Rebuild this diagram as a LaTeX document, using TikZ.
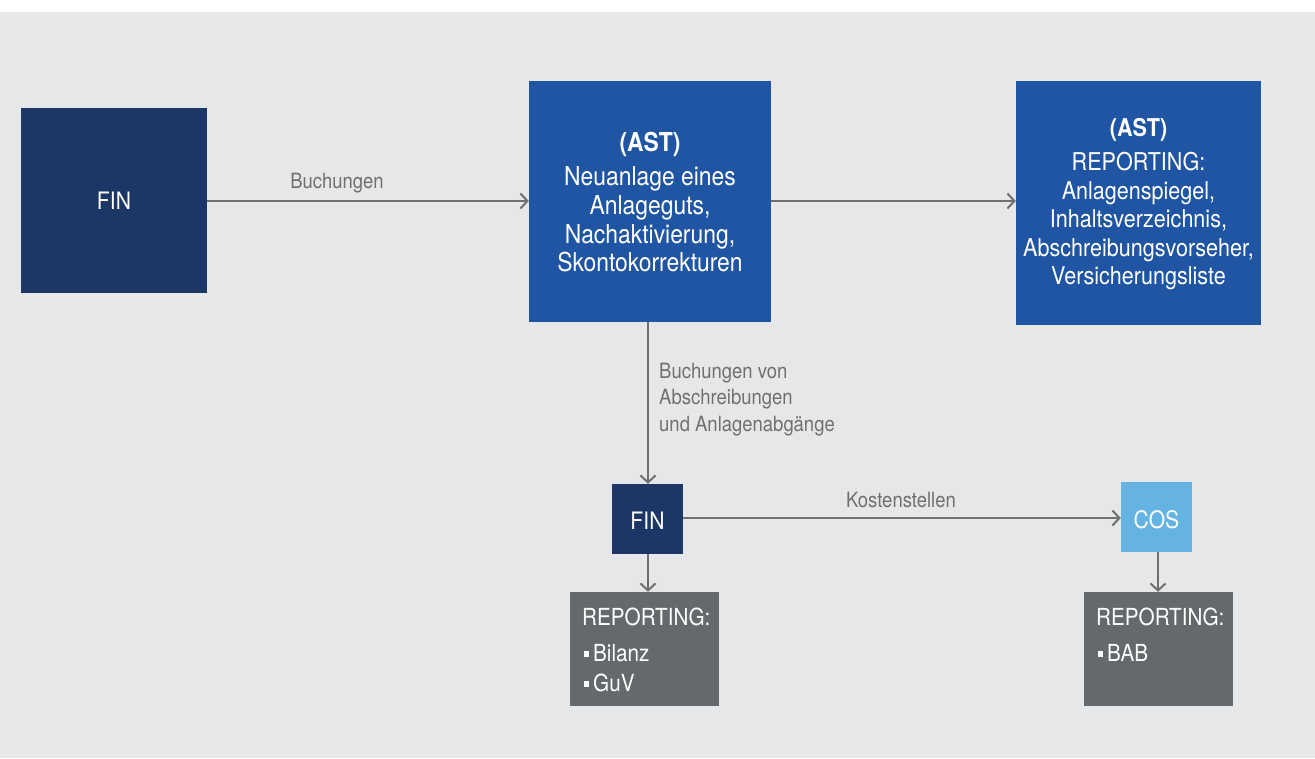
\documentclass[tikz,border=0pt]{standalone}
\usepackage{fontspec}
\setmainfont{TeX Gyre Heros}[FakeStretch=0.88]
\usetikzlibrary{arrows.meta}
\definecolor{panel}{HTML}{E6E7E9}
\definecolor{navy}{HTML}{1C3666}
\definecolor{astblue}{HTML}{1F55A2}
\definecolor{cosblue}{HTML}{64B3E3}
\definecolor{repgray}{HTML}{65696B}
\definecolor{linegray}{HTML}{6E7071}
\newcommand{\sqbullet}{\hspace{1.5pt}\raisebox{5pt}{\rule{5.5pt}{5.5pt}}\hspace{4pt}}
\tikzset{
  box/.style={draw=none, inner sep=0pt, text=white, align=center},
  boxtext/.style={text=white, align=center, inner sep=0pt},
  reptext/.style={text=white, align=left, inner sep=0pt, anchor=north west, font=\fontsize{23.5}{30}\selectfont},
  flow/.style={draw=linegray, line width=2pt, -{Straight Barb[length=7pt, width=15pt, line width=2pt]}},
  lbl/.style={text=linegray, inner sep=0pt, font=\fontsize{21}{26.5}\selectfont}
}
\begin{document}
\begin{tikzpicture}[x=1pt, y=-1pt]
  \useasboundingbox (0,0) rectangle (1315,758);
  \fill[panel] (0,12) rectangle (1315,758);

  % top row
  \node[box, fill=navy, minimum width=186pt, minimum height=185pt,
        font=\fontsize{24}{28}\selectfont] (fin1) at (114,200.5) {FIN};
  \node[box, fill=astblue, minimum width=242pt, minimum height=241pt] (ast1) at (650,201.5) {};
  \node[boxtext, font=\fontsize{26}{28.7}\selectfont] (ast1t) at (650,202) {\textbf{(AST)}\\[6pt]Neuanlage eines\\Anlageguts,\\Nachaktivierung,\\Skontokorrekturen};
  \node[box, fill=astblue, minimum width=245pt, minimum height=244pt] (ast2) at (1138.5,203) {};
  \node[boxtext, font=\fontsize{24.5}{28.5}\selectfont] (ast2t) at (1138.5,204) {\textbf{(AST)}\\[6pt]REPORTING:\\Anlagenspiegel,\\Inhaltsverzeichnis,\\Abschreibungsvorseher,\\Versicherungsliste};

  % lower row
  \node[box, fill=navy, minimum width=71pt, minimum height=70pt] (fin2) at (647.5,519) {};
  \node[boxtext, font=\fontsize{24}{28}\selectfont] (fin2t) at (647.5,521) {FIN};
  \node[box, fill=cosblue, minimum width=71pt, minimum height=70pt] (cos) at (1156.5,517) {};
  \node[boxtext, font=\fontsize{24}{28}\selectfont] (cost) at (1156.5,519.5) {COS};
  \node[box, fill=repgray, minimum width=149pt, minimum height=114pt] (rep1) at (644.5,649) {};
  \node[reptext] (rep1t) at (582,608) {REPORTING:\\[6pt]\sqbullet Bilanz\\\sqbullet GuV};
  \node[box, fill=repgray, minimum width=149pt, minimum height=114pt] (rep2) at (1158.5,649) {};
  \node[reptext] (rep2t) at (1096,608) {REPORTING:\\[6pt]\sqbullet BAB};

  % connectors
  \draw[flow] (fin1.east |- 0,201) -- (ast1.west |- 0,201);
  \draw[flow] (ast1.east |- 0,201) -- (ast2.west |- 0,201);
  \draw[flow] (ast1.south -| 648,0) -- (fin2.north -| 648,0);
  \draw[flow] (fin2.east |- 0,518) -- (cos.west |- 0,518);
  \draw[flow] (fin2.south -| 648,0) -- (rep1.north -| 648,0);
  \draw[flow] (cos.south -| 1158,0) -- (rep2.north -| 1158,0);

  % connector labels
  \node[lbl] (l1) at (337,183) {Buchungen};
  \node[lbl, align=left, anchor=west] (l2) at (659,399.5) {Buchungen von\\Abschreibungen\\und Anlagenabgänge};
  \node[lbl] (l3) at (901,500) {Kostenstellen};
\end{tikzpicture}
\end{document}
